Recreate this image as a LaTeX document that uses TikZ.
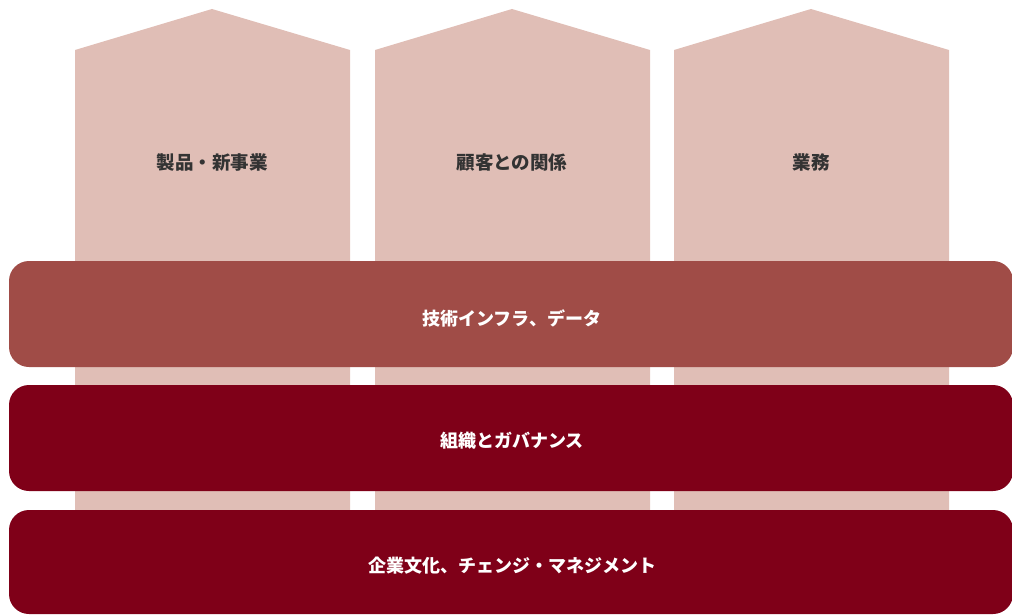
\documentclass[tikz,border=0pt]{standalone}
\usepackage{fontspec}
\newfontfamily\cjk{Noto Sans CJK JP}
\definecolor{pillar}{HTML}{E0BEB6}
\definecolor{bandA}{HTML}{A04C47}
\definecolor{bandB}{HTML}{7F0018}
\definecolor{darktext}{HTML}{333333}
\begin{document}
\begin{tikzpicture}[x=1pt,y=-1pt,
  pillarshape/.style={fill=pillar,draw=none},
  band/.style={draw=none,rounded corners=20pt},
  plabel/.style={font=\cjk\bfseries\fontsize{18.5}{22}\selectfont,text=darktext},
  blabel/.style={font=\cjk\bfseries\fontsize{18}{22}\selectfont,text=white}]
\useasboundingbox (0,0) rectangle (1012,615);
\begin{scope}
\clip (0,0) rectangle (1012,615);
% pillars
\foreach \l/\r/\a in {75/350/212, 375/650/512, 674/949/811}{
  \fill[pillarshape] (\l,612) -- (\l,50) -- (\a,9) -- (\r,50) -- (\r,612) -- cycle;
}
% bands
\fill[band,fill=bandA] (9,261) rectangle (1013,367);
\fill[band,fill=bandB] (9,385) rectangle (1013,491);
\fill[band,fill=bandB] (9,510) rectangle (1013,614);
\end{scope}
\node[plabel] (p1) at (212,162) {製品・新事業};
\node[plabel] (p2) at (512,162) {顧客との関係};
\node[plabel] (p3) at (811,162) {業務};
\node[blabel] (b1) at (512,318) {技術インフラ、データ};
\node[blabel] (b2) at (512,441) {組織とガバナンス};
\node[blabel] (b3) at (512,566) {企業文化、チェンジ・マネジメント};
\end{tikzpicture}
\end{document}
